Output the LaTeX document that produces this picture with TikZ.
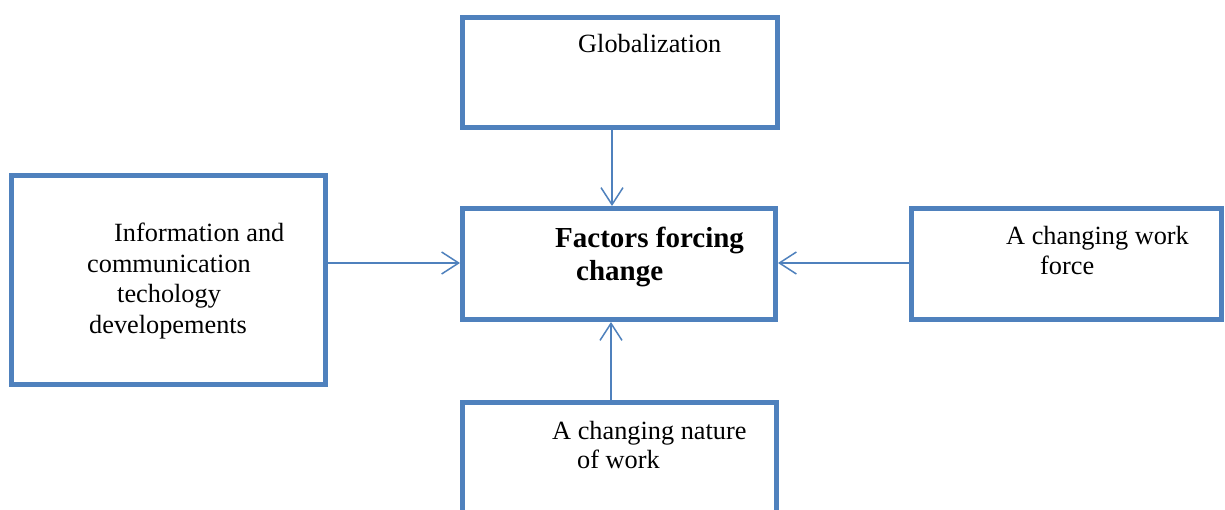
\documentclass[tikz,border=0pt]{standalone}
\usepackage{fontspec}
\setmainfont{Liberation Serif}
\usetikzlibrary{arrows.meta}
\definecolor{boxblue}{HTML}{4F81BD}
\tikzset{
  factorbox/.style={draw=boxblue, line width=5pt, rectangle, inner sep=0pt},
  lbl/.style={anchor=base west, inner sep=0pt, font=\fontsize{26.3}{31}\selectfont},
  blbl/.style={anchor=base west, inner sep=0pt, font=\fontsize{29}{34}\selectfont\bfseries},
  link/.style={draw=boxblue, line width=1.5pt, -{Straight Barb[length=17pt,width=22pt,line width=1.5pt]}}
}
\begin{document}
\begin{tikzpicture}[x=1pt,y=-1pt]
\useasboundingbox (0,0) rectangle (1225,510);
\clip (0,0) rectangle (1225,510);
\fill[white] (0,0) rectangle (1225,510);
% boxes
\node[factorbox, minimum width=315pt, minimum height=110pt] (glob) at (620,72.5) {};
\node[factorbox, minimum width=313pt, minimum height=111pt] (ctr) at (619,264) {};
\node[factorbox, minimum width=314pt, minimum height=209pt] (ict) at (168.5,280) {};
\node[factorbox, minimum width=310pt, minimum height=111pt] (wf) at (1066.5,264) {};
\node[factorbox, minimum width=314pt, minimum height=130pt] (nw) at (619,467.5) {};
% texts
\node[lbl] (tglob) at (578,53) {Globalization};
\node[lbl] (tict1) at (114,242) {Information and};
\node[lbl] (tict2) at (87,273) {communication};
\node[lbl] (tict3) at (117,303) {techology};
\node[lbl] (tict4) at (89,333) {developements};
\node[blbl] (tctr1) at (555,248) {Factors forcing};
\node[blbl] (tctr2) at (576,281) {change};
\node[lbl] (twf1) at (1006,245) {A changing work};
\node[lbl] (twf2) at (1040,275) {force};
\node[lbl] (tnw1) at (552,439) {A changing nature};
\node[lbl] (tnw2) at (577,468) {of work};
% connectors
\coordinate (vx) at (612,0);
\coordinate (vb) at (611,0);
\coordinate (hy) at (0,263);
\draw[link] (glob.south -| vx) -- (ctr.north -| vx);
\draw[link] (nw.north -| vb) -- (ctr.south -| vb);
\draw[link] (ict.east |- hy) -- (ctr.west |- hy);
\draw[link] (wf.west |- hy) -- (ctr.east |- hy);
\end{tikzpicture}
\end{document}
